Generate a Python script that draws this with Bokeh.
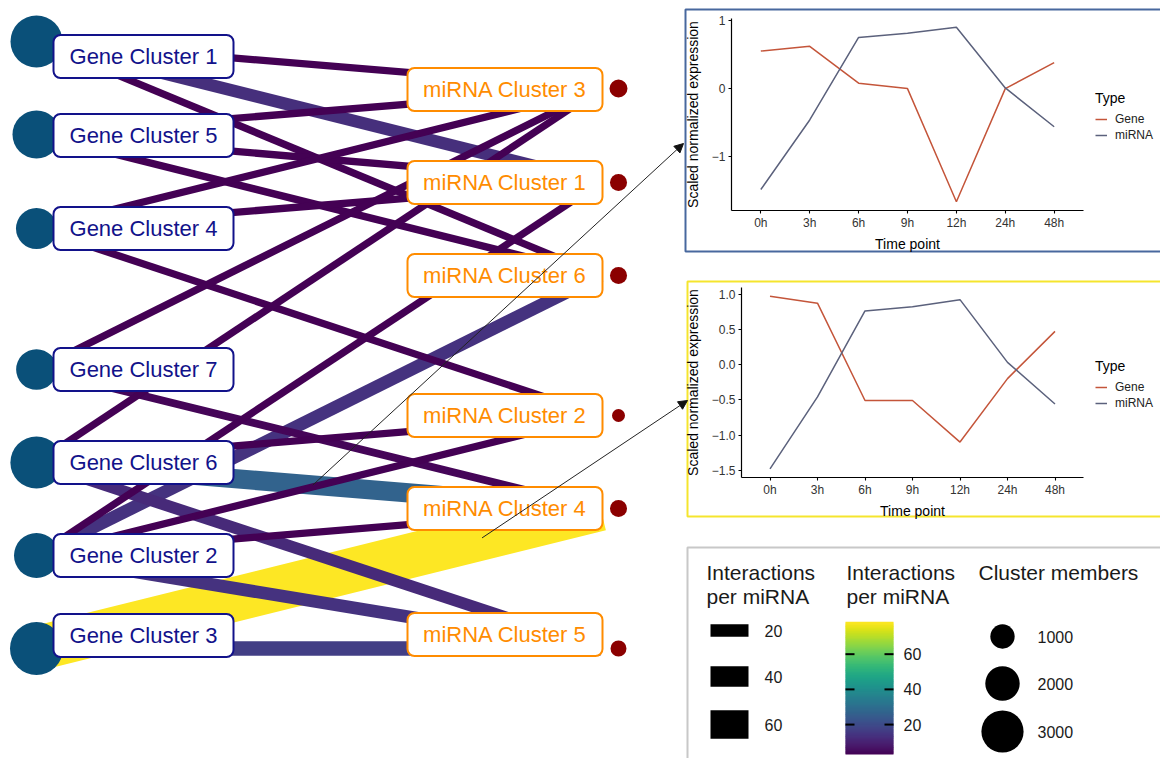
import numpy as np
from bokeh.plotting import figure
from bokeh.models import (Range1d, FixedTicker, Legend, LegendItem, Arrow, NormalHead,
                          ColumnDataSource, CustomJSTickFormatter, LinearAxis)
from bokeh.palettes import Viridis256
from bokeh.transform import linear_cmap
from bokeh.core.properties import value
from bokeh.embed import file_html
from bokeh.resources import INLINE

FONT = "Liberation Sans"

# ---------------- data ----------------
gene_clusters = ["Gene Cluster 1", "Gene Cluster 2", "Gene Cluster 3", "Gene Cluster 4",
                 "Gene Cluster 5", "Gene Cluster 6", "Gene Cluster 7"]
gene_members = [4560, 3420, 4740, 2840, 3890, 4600, 2800]

mirna_clusters = ["miRNA Cluster 1", "miRNA Cluster 2", "miRNA Cluster 3",
                  "miRNA Cluster 4", "miRNA Cluster 5", "miRNA Cluster 6"]
mirna_members = [490, 285, 545, 490, 430, 490]

edge_gene = ["Gene Cluster 1", "Gene Cluster 1", "Gene Cluster 1",
             "Gene Cluster 5", "Gene Cluster 5", "Gene Cluster 5",
             "Gene Cluster 4", "Gene Cluster 4", "Gene Cluster 4",
             "Gene Cluster 7", "Gene Cluster 7",
             "Gene Cluster 6", "Gene Cluster 6", "Gene Cluster 6", "Gene Cluster 6",
             "Gene Cluster 2", "Gene Cluster 2", "Gene Cluster 2", "Gene Cluster 2", "Gene Cluster 2",
             "Gene Cluster 3", "Gene Cluster 3"]
edge_mirna = ["miRNA Cluster 3", "miRNA Cluster 1", "miRNA Cluster 6",
              "miRNA Cluster 3", "miRNA Cluster 1", "miRNA Cluster 6",
              "miRNA Cluster 3", "miRNA Cluster 1", "miRNA Cluster 2",
              "miRNA Cluster 3", "miRNA Cluster 4",
              "miRNA Cluster 3", "miRNA Cluster 2", "miRNA Cluster 4", "miRNA Cluster 5",
              "miRNA Cluster 1", "miRNA Cluster 6", "miRNA Cluster 2", "miRNA Cluster 4", "miRNA Cluster 5",
              "miRNA Cluster 4", "miRNA Cluster 5"]
edge_interactions = [3, 13, 3,
                     3, 3, 3,
                     3, 3, 3,
                     3, 4,
                     3, 3, 27, 12,
                     3, 14, 3, 3, 14,
                     78, 17]

time_points = ["0h", "3h", "6h", "9h", "12h", "24h", "48h"]
chart1_gene = [0.55, 0.62, 0.08, 0.0, -1.66, 0.0, 0.38]
chart1_mirna = [-1.48, -0.46, 0.75, 0.81, 0.90, 0.01, -0.56]
chart2_gene = [0.97, 0.87, -0.51, -0.51, -1.10, -0.20, 0.47]
chart2_mirna = [-1.48, -0.46, 0.76, 0.82, 0.92, 0.03, -0.56]

width_legend_values = [20, 40, 60]
colorbar_ticks = [20, 40, 60]
member_legend_values = [1000, 2000, 3000]

# ---------------- canvas (pixel coordinates, y downwards) ----------------
W, H = 1160, 758
p = figure(width=W, height=H, x_range=Range1d(0, W), y_range=Range1d(H, 0),
           x_axis_type=None, y_axis_type=None, output_backend="svg",
           toolbar_location=None, min_border=0)
p.grid.visible = False
p.outline_line_color = None

# ---------------- network layout / scales ----------------
gene_order = ["Gene Cluster 1", "Gene Cluster 5", "Gene Cluster 4", "Gene Cluster 7",
              "Gene Cluster 6", "Gene Cluster 2", "Gene Cluster 3"]
gene_node_y = [41, 134, 228, 369, 462, 555, 648]
gene_label_y = [56, 135, 228, 369, 462, 555, 635]
mirna_order = ["miRNA Cluster 3", "miRNA Cluster 1", "miRNA Cluster 6",
               "miRNA Cluster 2", "miRNA Cluster 4", "miRNA Cluster 5"]
mirna_node_y = [88, 182, 275, 415, 508, 648]
mirna_label_y = [89, 182, 275, 415, 508, 634]
GENE_X, EDGE_END_X, MIRNA_X = 36, 600, 618
GENE_BOX = (53, 233)
MIRNA_BOX = (407, 602)

gy = dict(zip(gene_order, gene_node_y))
my = dict(zip(mirna_order, mirna_node_y))

vmin, vmax = min(edge_interactions), max(edge_interactions)
W_MIN, W_MAX = 7.3, 44.8


def edge_width(v):
    return W_MIN + (v - vmin) / (vmax - vmin) * (W_MAX - W_MIN)


def member_size(n):
    return 0.77 * np.sqrt(n)


cmap = linear_cmap("val", Viridis256, vmin, vmax)

order = sorted(range(len(edge_interactions)), key=lambda i: -edge_interactions[i])
esrc = ColumnDataSource(dict(
    x0=[GENE_X] * len(order),
    y0=[gy[edge_gene[i]] for i in order],
    x1=[EDGE_END_X] * len(order),
    y1=[my[edge_mirna[i]] for i in order],
    val=[edge_interactions[i] for i in order],
    w=[edge_width(edge_interactions[i]) for i in order],
))
p.segment(x0="x0", y0="y0", x1="x1", y1="y1", line_width="w", line_color=cmap,
          line_cap="butt", source=esrc)

gmem = dict(zip(gene_clusters, gene_members))
p.scatter(x=[GENE_X] * len(gene_order), y=gene_node_y,
          size=[member_size(gmem[g]) for g in gene_order],
          fill_color="#0a5079", line_color=None)
mmem = dict(zip(mirna_clusters, mirna_members))
p.scatter(x=[MIRNA_X] * len(mirna_order), y=mirna_node_y,
          size=[member_size(mmem[m]) for m in mirna_order],
          fill_color="#8b0000", line_color=None)

p.quad(left=GENE_BOX[0], right=GENE_BOX[1],
       top=[y - 21.5 for y in gene_label_y], bottom=[y + 21.5 for y in gene_label_y],
       fill_color="white", line_color="#12128a", line_width=2, border_radius=7)
p.text(x=[(GENE_BOX[0] + GENE_BOX[1]) / 2] * len(gene_order), y=gene_label_y, text=gene_order,
       text_align="center", text_baseline="middle", text_font=value(FONT),
       text_font_size="22px", text_color="#12128a")
p.quad(left=MIRNA_BOX[0], right=MIRNA_BOX[1],
       top=[y - 21.5 for y in mirna_label_y], bottom=[y + 21.5 for y in mirna_label_y],
       fill_color="white", line_color="#ff8c00", line_width=2, border_radius=7)
p.text(x=[(MIRNA_BOX[0] + MIRNA_BOX[1]) / 2] * len(mirna_order), y=mirna_label_y, text=mirna_order,
       text_align="center", text_baseline="middle", text_font=value(FONT),
       text_font_size="22px", text_color="#ff8c00")

# ---------------- panel borders ----------------
p.quad(left=[685, 687, 687], right=[1175, 1175, 1175], top=[9, 281, 547], bottom=[251, 516, 775],
       fill_color=None, line_color=["#48689e", "#f5e52e", "#c8c8c8"], line_width=2)

# ---------------- line charts (own ranges + axes) ----------------
GENE_COL = "#c4553a"
MIRNA_COL = "#5b617c"
idx = list(range(len(time_points)))


def add_chart(name, gene_vals, mirna_vals, frame, ticks, decimals):
    fl, fr, ft, fb = frame
    lo = min(gene_vals + mirna_vals)
    hi = max(gene_vals + mirna_vals)
    pad = 0.05 * (hi - lo)
    dlo, dhi = lo - pad, hi + pad
    k = (fb - ft) / (dhi - dlo)
    p.extra_y_ranges[name + "y"] = Range1d(dlo + (fb - H) / k, dlo + fb / k)
    ilo, ihi = idx[0] - 0.6, idx[-1] + 0.6
    s = (fr - fl) / (ihi - ilo)
    p.extra_x_ranges[name + "x"] = Range1d(ilo - fl / s, ilo + (W - fl) / s)

    r1 = p.line(x=idx, y=gene_vals, line_color=GENE_COL, line_width=1.5,
                x_range_name=name + "x", y_range_name=name + "y")
    r2 = p.line(x=idx, y=mirna_vals, line_color=MIRNA_COL, line_width=1.5,
                x_range_name=name + "x", y_range_name=name + "y")

    yax = LinearAxis(y_range_name=name + "y", fixed_location=fl, bounds=(dlo, dhi),
                     ticker=FixedTicker(ticks=ticks),
                     formatter=CustomJSTickFormatter(
                         args=dict(d=decimals),
                         code="return tick.toFixed(d).replace('-', '\u2212');"),
                     axis_label="Scaled normalized expression")
    xax = LinearAxis(x_range_name=name + "x", fixed_location=fb, bounds=(ilo, ihi),
                     ticker=FixedTicker(ticks=idx),
                     major_label_overrides={i: t for i, t in zip(idx, time_points)},
                     axis_label="Time point")
    for ax in (xax, yax):
        ax.axis_label_text_font = FONT
        ax.axis_label_text_font_size = "14px"
        ax.axis_label_text_font_style = "normal"
        ax.axis_label_text_color = "#000000"
        ax.major_label_text_font = FONT
        ax.major_label_text_font_size = "12px"
        ax.major_label_text_color = "#333333"
        ax.axis_line_color = "#000000"
        ax.axis_line_width = 1.2
        ax.major_tick_line_color = "#000000"
        ax.major_tick_line_width = 1.1
        ax.major_tick_out = 3
        ax.major_tick_in = 0
        ax.minor_tick_line_color = None
    xax.major_label_standoff = 2
    xax.axis_label_standoff = 3
    yax.major_label_standoff = 3
    yax.axis_label_standoff = 8
    p.add_layout(yax, "left")
    p.add_layout(xax, "below")

    leg = Legend(items=[LegendItem(label="Gene", renderers=[r1]),
                        LegendItem(label="miRNA", renderers=[r2])],
                 title="Type", location=(fr + 12, H - ((ft + fb) / 2 + 28)),
                 orientation="vertical",
                 title_text_font=FONT, title_text_font_size="14px", title_text_font_style="normal",
                 title_text_color="#000000", title_standoff=6,
                 label_text_font=FONT, label_text_font_size="12px", label_text_color="#222222",
                 glyph_width=12, glyph_height=14, label_standoff=8, spacing=2,
                 padding=2, margin=0, border_line_color=None, background_fill_alpha=0)
    p.add_layout(leg)


add_chart("c1", chart1_gene, chart1_mirna, (731, 1083, 18, 210), [-1, 0, 1], 0)
add_chart("c2", chart2_gene, chart2_mirna, (741, 1083, 287, 477),
          [-1.5, -1.0, -0.5, 0.0, 0.5, 1.0], 1)

# ---------------- arrows from edges to charts ----------------


def point_on_edge(g, m, t):
    return GENE_X + t * (EDGE_END_X - GENE_X), gy[g] + t * (my[m] - gy[g])


a1 = point_on_edge("Gene Cluster 6", "miRNA Cluster 4", 0.49)
a2 = point_on_edge("Gene Cluster 3", "miRNA Cluster 4", 0.79)
for (sx, sy), (ex, ey) in [(a1, (683, 143)), (a2, (687, 400))]:
    p.add_layout(Arrow(end=NormalHead(size=9, fill_color="#111111", line_color="#111111"),
                       x_start=sx, y_start=sy, x_end=ex, y_end=ey,
                       line_color="#222222", line_width=1))

# ---------------- legends panel ----------------
TXT = "#1a1a1a"
p.text(x=[706, 706, 846, 846, 978], y=[572, 596, 572, 596, 572],
       text=["Interactions", "per miRNA", "Interactions", "per miRNA", "Cluster members"],
       text_align="left", text_baseline="middle", text_font=value(FONT),
       text_font_size="21px", text_color=TXT)

# width keys (drawn at 80% of the network line width)
key_y = [630, 676, 724]
key_h = [0.8 * edge_width(v) for v in width_legend_values]
p.quad(left=710, right=748, top=[y - h / 2 for y, h in zip(key_y, key_h)],
       bottom=[y + h / 2 for y, h in zip(key_y, key_h)], fill_color="black", line_color=None)
p.text(x=[764] * 3, y=key_y, text=[str(v) for v in width_legend_values],
       text_align="left", text_baseline="middle", text_font=value(FONT),
       text_font_size="16px", text_color=TXT)

# colour bar
CB_TOP, CB_BOT, CB_L, CB_R = 622, 754, 845, 893


def cb_y(v):
    return CB_BOT - (v - vmin) / (vmax - vmin) * (CB_BOT - CB_TOP)


edges_v = np.linspace(vmin, vmax, 121)
cb_src = ColumnDataSource(dict(
    top=[cb_y(v) - 0.8 for v in edges_v[1:]],
    bottom=[cb_y(v) for v in edges_v[:-1]],
    val=list((edges_v[1:] + edges_v[:-1]) / 2),
))
p.quad(left=CB_L, right=CB_R, top="top", bottom="bottom", fill_color=cmap,
       line_color=None, source=cb_src)
ty = [cb_y(t) for t in colorbar_ticks]
p.segment(x0=[CB_L] * 3 + [CB_R - 9] * 3, y0=ty + ty, x1=[CB_L + 9] * 3 + [CB_R] * 3, y1=ty + ty,
          line_color="black", line_width=2)
p.text(x=[903] * 3, y=ty, text=[str(t) for t in colorbar_ticks],
       text_align="left", text_baseline="middle", text_font=value(FONT),
       text_font_size="16px", text_color=TXT)

# size legend
mem_y = [636, 683, 731]
p.scatter(x=[1002] * 3, y=mem_y, size=[member_size(n) for n in member_legend_values],
          fill_color="black", line_color=None)
p.text(x=[1037] * 3, y=mem_y, text=[str(n) for n in member_legend_values],
       text_align="left", text_baseline="middle", text_font=value(FONT),
       text_font_size="16px", text_color=TXT)

open("out.html", "w").write(file_html(p, INLINE))
